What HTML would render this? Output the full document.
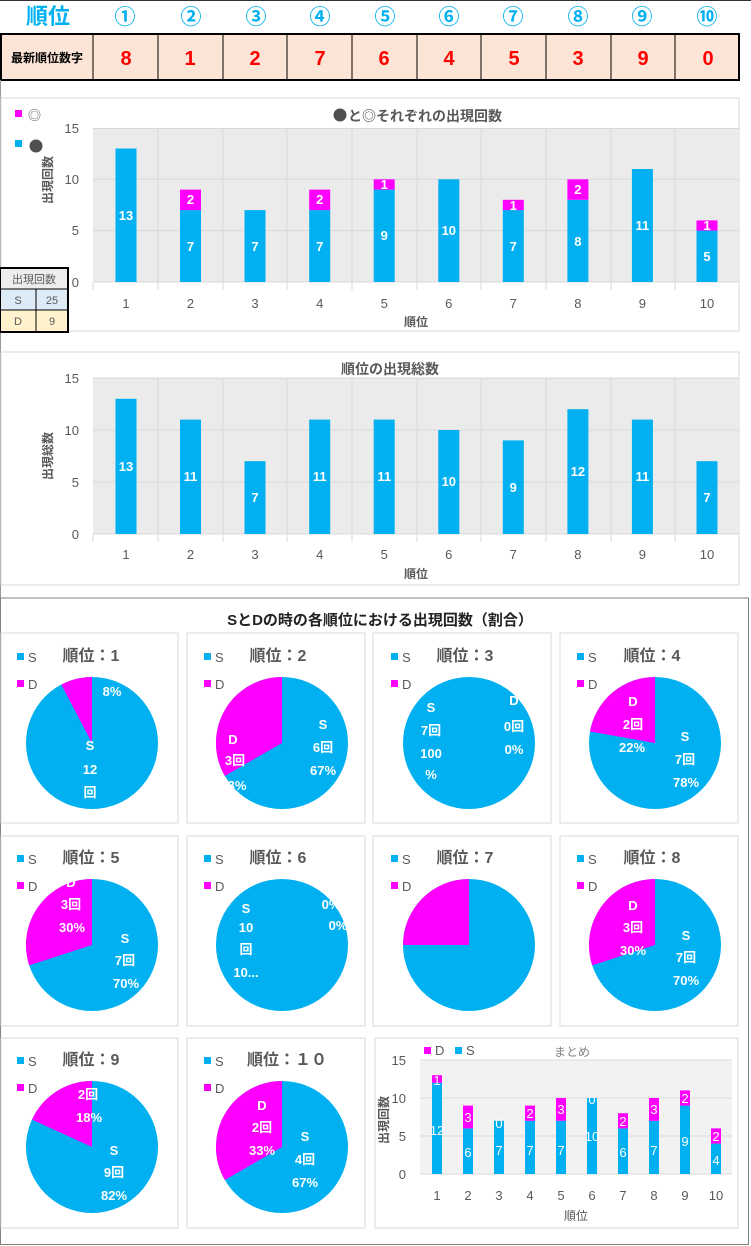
<!DOCTYPE html>
<html><head><meta charset="utf-8"><style>
body{margin:0;background:#fff;}
svg{display:block;font-family:"Liberation Sans","Noto Sans CJK JP",sans-serif;}
.w{fill:#fff;font-weight:bold;font-size:13px;text-anchor:middle;}
.t{fill:#595959;font-size:13px;text-anchor:middle;}
.pt{fill:#595959;font-weight:bold;font-size:16px;text-anchor:middle;}
.lg{fill:#595959;font-size:13px;}
</style></head><body>
<svg width="751" height="1246" viewBox="0 0 751 1246">
<!-- header -->
<line x1="0" y1="0.5" x2="751" y2="0.5" stroke="#333"/>
<g font-size="21" font-weight="bold" fill="#00b0f0" text-anchor="middle">
<text x="48" y="24" font-size="22">順位</text>
<text x="125" y="24">①</text><text x="191" y="24">②</text><text x="256" y="24">③</text><text x="320" y="24">④</text><text x="385" y="24">⑤</text><text x="449" y="24">⑥</text><text x="513" y="24">⑦</text><text x="578" y="24">⑧</text><text x="642" y="24">⑨</text><text x="707" y="24">⑩</text>
</g>
<rect x="1" y="34" width="738" height="46" fill="#fce4d6" stroke="#000" stroke-width="2"/>
<g stroke="#000" stroke-width="1">
<line x1="93" y1="34" x2="93" y2="80"/><line x1="158" y1="34" x2="158" y2="80"/><line x1="223" y1="34" x2="223" y2="80"/><line x1="287" y1="34" x2="287" y2="80"/><line x1="352" y1="34" x2="352" y2="80"/><line x1="417" y1="34" x2="417" y2="80"/><line x1="481" y1="34" x2="481" y2="80"/><line x1="546" y1="34" x2="546" y2="80"/><line x1="611" y1="34" x2="611" y2="80"/><line x1="675" y1="34" x2="675" y2="80"/>
</g>
<text x="47" y="62" font-size="12" font-weight="bold" text-anchor="middle">最新順位数字</text>
<g font-size="20" font-weight="bold" fill="#ff0000" text-anchor="middle">
<text x="126" y="65">8</text><text x="190" y="65">1</text><text x="255" y="65">2</text><text x="320" y="65">7</text><text x="384" y="65">6</text><text x="449" y="65">4</text><text x="514" y="65">5</text><text x="578" y="65">3</text><text x="643" y="65">9</text><text x="708" y="65">0</text>
</g>
<line x1="0.5" y1="80" x2="0.5" y2="600" stroke="#999"/>

<!-- chart 1 -->
<rect x="1" y="98" width="738" height="233" fill="#fff" stroke="#d9d9d9"/>
<rect x="93" y="128" width="646" height="154" fill="#ebebeb"/>
<g stroke="#d9d9d9"><line x1="93" y1="128.5" x2="739" y2="128.5"/><line x1="93" y1="179.3" x2="739" y2="179.3"/><line x1="93" y1="230.6" x2="739" y2="230.6"/><line x1="93" y1="282" x2="739" y2="282"/>
<line x1="158" y1="128" x2="158" y2="290"/><line x1="223" y1="128" x2="223" y2="290"/><line x1="287" y1="128" x2="287" y2="290"/><line x1="352" y1="128" x2="352" y2="290"/><line x1="417" y1="128" x2="417" y2="290"/><line x1="481" y1="128" x2="481" y2="290"/><line x1="546" y1="128" x2="546" y2="290"/><line x1="611" y1="128" x2="611" y2="290"/><line x1="675" y1="128" x2="675" y2="290"/><line x1="93" y1="282" x2="93" y2="290"/></g>
<circle cx="340" cy="115" r="6.5" fill="#505050"/>
<text x="348" y="121" font-size="14" font-weight="bold" fill="#595959">と◎それぞれの出現回数</text>
<rect x="15" y="110" width="7" height="7" fill="#ff00ff"/><text x="28" y="120" class="lg">◎</text>
<rect x="15" y="140" width="7" height="7" fill="#00b0f0"/><circle cx="36" cy="146" r="6.5" fill="#505050"/>
<g class="t" style="text-anchor:end"><text x="79" y="133">15</text><text x="79" y="184">10</text><text x="79" y="235">5</text><text x="79" y="287">0</text></g>
<text transform="translate(52,180) rotate(-90)" font-size="12" font-weight="bold" fill="#595959" text-anchor="middle">出現回数</text>
<g fill="#00b0f0">
<rect x="115.5" y="148.5" width="21" height="133.5"/><rect x="180" y="210.1" width="21" height="71.9"/><rect x="244.5" y="210.1" width="21" height="71.9"/><rect x="309.2" y="210.1" width="21" height="71.9"/><rect x="373.7" y="189.6" width="21" height="92.4"/><rect x="438.3" y="179.3" width="21" height="102.7"/><rect x="502.8" y="210.1" width="21" height="71.9"/><rect x="567.4" y="199.8" width="21" height="82.2"/><rect x="631.9" y="169" width="21" height="113"/><rect x="696.5" y="230.6" width="21" height="51.4"/>
</g>
<g fill="#ff00ff">
<rect x="180" y="189.6" width="21" height="20.5"/><rect x="309.2" y="189.6" width="21" height="20.5"/><rect x="373.7" y="179.3" width="21" height="10.3"/><rect x="502.8" y="199.8" width="21" height="10.3"/><rect x="567.4" y="179.3" width="21" height="20.5"/><rect x="696.5" y="220.4" width="21" height="10.2"/>
</g>
<g class="w">
<text x="126" y="220">13</text><text x="190.5" y="251">7</text><text x="255" y="251">7</text><text x="319.7" y="251">7</text><text x="384.2" y="240">9</text><text x="448.8" y="235">10</text><text x="513.3" y="251">7</text><text x="577.9" y="246">8</text><text x="642.4" y="230">11</text><text x="707" y="261">5</text>
<text x="190.5" y="204">2</text><text x="319.7" y="204">2</text><text x="384.2" y="189">1</text><text x="513.3" y="210">1</text><text x="577.9" y="194">2</text><text x="707" y="230">1</text>
</g>
<g class="t"><text x="126" y="308">1</text><text x="190.5" y="308">2</text><text x="255" y="308">3</text><text x="319.7" y="308">4</text><text x="384.2" y="308">5</text><text x="448.8" y="308">6</text><text x="513.3" y="308">7</text><text x="577.9" y="308">8</text><text x="642.4" y="308">9</text><text x="707" y="308">10</text></g>
<text x="416" y="326" font-size="12" font-weight="bold" fill="#595959" text-anchor="middle">順位</text>
<!-- small table -->
<rect x="0" y="268" width="68" height="64" fill="#fff" stroke="#000" stroke-width="2"/>
<rect x="1" y="269" width="66" height="20" fill="#ededed"/>
<rect x="1" y="289" width="66" height="21" fill="#ddebf7"/>
<rect x="1" y="310" width="66" height="21" fill="#fff2cc"/>
<g stroke="#000"><line x1="0" y1="289" x2="68" y2="289"/><line x1="0" y1="310" x2="68" y2="310"/><line x1="36" y1="289" x2="36" y2="332"/></g>
<g font-size="11" fill="#595959" text-anchor="middle"><text x="34" y="283">出現回数</text><text x="18" y="304">S</text><text x="52" y="304">25</text><text x="18" y="325">D</text><text x="52" y="325">9</text></g>

<!-- chart 2 -->
<rect x="1" y="352" width="738" height="233" fill="#fff" stroke="#d9d9d9"/>
<rect x="93" y="378" width="646" height="156" fill="#ebebeb"/>
<g stroke="#d9d9d9"><line x1="93" y1="378" x2="739" y2="378"/><line x1="93" y1="430" x2="739" y2="430"/><line x1="93" y1="482" x2="739" y2="482"/><line x1="93" y1="534" x2="739" y2="534"/>
<line x1="158" y1="378" x2="158" y2="542"/><line x1="223" y1="378" x2="223" y2="542"/><line x1="287" y1="378" x2="287" y2="542"/><line x1="352" y1="378" x2="352" y2="542"/><line x1="417" y1="378" x2="417" y2="542"/><line x1="481" y1="378" x2="481" y2="542"/><line x1="546" y1="378" x2="546" y2="542"/><line x1="611" y1="378" x2="611" y2="542"/><line x1="675" y1="378" x2="675" y2="542"/><line x1="93" y1="534" x2="93" y2="542"/></g>
<text x="390" y="374" font-size="14" font-weight="bold" fill="#595959" text-anchor="middle">順位の出現総数</text>
<g class="t" style="text-anchor:end"><text x="79" y="383">15</text><text x="79" y="435">10</text><text x="79" y="487">5</text><text x="79" y="539">0</text></g>
<text transform="translate(52,456) rotate(-90)" font-size="12" font-weight="bold" fill="#595959" text-anchor="middle">出現総数</text>
<g fill="#00b0f0">
<rect x="115.5" y="398.8" width="21" height="135.2"/><rect x="180" y="419.6" width="21" height="114.4"/><rect x="244.5" y="461.2" width="21" height="72.8"/><rect x="309.2" y="419.6" width="21" height="114.4"/><rect x="373.7" y="419.6" width="21" height="114.4"/><rect x="438.3" y="430" width="21" height="104"/><rect x="502.8" y="440.4" width="21" height="93.6"/><rect x="567.4" y="409.2" width="21" height="124.8"/><rect x="631.9" y="419.6" width="21" height="114.4"/><rect x="696.5" y="461.2" width="21" height="72.8"/>
</g>
<g class="w">
<text x="126" y="471">13</text><text x="190.5" y="481">11</text><text x="255" y="502">7</text><text x="319.7" y="481">11</text><text x="384.2" y="481">11</text><text x="448.8" y="486">10</text><text x="513.3" y="492">9</text><text x="577.9" y="476">12</text><text x="642.4" y="481">11</text><text x="707" y="502">7</text>
</g>
<g class="t"><text x="126" y="559">1</text><text x="190.5" y="559">2</text><text x="255" y="559">3</text><text x="319.7" y="559">4</text><text x="384.2" y="559">5</text><text x="448.8" y="559">6</text><text x="513.3" y="559">7</text><text x="577.9" y="559">8</text><text x="642.4" y="559">9</text><text x="707" y="559">10</text></g>
<text x="416" y="578" font-size="12" font-weight="bold" fill="#595959" text-anchor="middle">順位</text>

<!-- pie section -->
<rect x="0.5" y="598" width="748" height="646.5" fill="none" stroke="#808080"/>
<text x="380" y="625" font-size="15" font-weight="bold" fill="#222" text-anchor="middle">SとDの時の各順位における出現回数（割合）</text>
<g fill="#fff" stroke="#d9d9d9">
<rect x="1" y="633" width="177" height="190"/><rect x="187" y="633" width="178" height="190"/><rect x="373" y="633" width="178" height="190"/><rect x="560" y="633" width="178" height="190"/>
<rect x="1" y="836" width="177" height="190"/><rect x="187" y="836" width="178" height="190"/><rect x="373" y="836" width="178" height="190"/><rect x="560" y="836" width="178" height="190"/>
<rect x="1" y="1038" width="177" height="190"/><rect x="187" y="1038" width="178" height="190"/><rect x="375" y="1038" width="363" height="190"/>
</g>
<!-- legends -->
<g>
<rect x="17" y="653" width="7" height="7" fill="#00b0f0"/><text x="28" y="662" class="lg">S</text><rect x="17" y="680" width="7" height="7" fill="#ff00ff"/><text x="28" y="689" class="lg">D</text>
<rect x="204" y="653" width="7" height="7" fill="#00b0f0"/><text x="215" y="662" class="lg">S</text><rect x="204" y="680" width="7" height="7" fill="#ff00ff"/><text x="215" y="689" class="lg">D</text>
<rect x="391" y="653" width="7" height="7" fill="#00b0f0"/><text x="402" y="662" class="lg">S</text><rect x="391" y="680" width="7" height="7" fill="#ff00ff"/><text x="402" y="689" class="lg">D</text>
<rect x="577" y="653" width="7" height="7" fill="#00b0f0"/><text x="588" y="662" class="lg">S</text><rect x="577" y="680" width="7" height="7" fill="#ff00ff"/><text x="588" y="689" class="lg">D</text>
<rect x="17" y="855" width="7" height="7" fill="#00b0f0"/><text x="28" y="864" class="lg">S</text><rect x="17" y="882" width="7" height="7" fill="#ff00ff"/><text x="28" y="891" class="lg">D</text>
<rect x="204" y="855" width="7" height="7" fill="#00b0f0"/><text x="215" y="864" class="lg">S</text><rect x="204" y="882" width="7" height="7" fill="#ff00ff"/><text x="215" y="891" class="lg">D</text>
<rect x="391" y="855" width="7" height="7" fill="#00b0f0"/><text x="402" y="864" class="lg">S</text><rect x="391" y="882" width="7" height="7" fill="#ff00ff"/><text x="402" y="891" class="lg">D</text>
<rect x="577" y="855" width="7" height="7" fill="#00b0f0"/><text x="588" y="864" class="lg">S</text><rect x="577" y="882" width="7" height="7" fill="#ff00ff"/><text x="588" y="891" class="lg">D</text>
<rect x="17" y="1057" width="7" height="7" fill="#00b0f0"/><text x="28" y="1066" class="lg">S</text><rect x="17" y="1084" width="7" height="7" fill="#ff00ff"/><text x="28" y="1093" class="lg">D</text>
<rect x="204" y="1057" width="7" height="7" fill="#00b0f0"/><text x="215" y="1066" class="lg">S</text><rect x="204" y="1084" width="7" height="7" fill="#ff00ff"/><text x="215" y="1093" class="lg">D</text>
</g>
<g class="pt">
<text x="91" y="661">順位：1</text><text x="278" y="661">順位：2</text><text x="465" y="661">順位：3</text><text x="652" y="661">順位：4</text>
<text x="91" y="863">順位：5</text><text x="278" y="863">順位：6</text><text x="465" y="863">順位：7</text><text x="652" y="863">順位：8</text>
<text x="91" y="1065">順位：9</text><text x="287" y="1065">順位：１０</text>
</g>
<!-- pies -->
<g fill="#00b0f0">
<circle cx="92" cy="743" r="66"/><circle cx="282" cy="743" r="66"/><circle cx="469" cy="743" r="66"/><circle cx="655" cy="743" r="66"/>
<circle cx="92" cy="945" r="66"/><circle cx="282" cy="945" r="66"/><circle cx="469" cy="945" r="66"/><circle cx="655" cy="945" r="66"/>
<circle cx="92" cy="1147" r="66"/><circle cx="282" cy="1147" r="66"/>
</g>
<g fill="#ff00ff">
<path d="M92 743 L61.3 684.6 A66 66 0 0 1 92 677 Z"/>
<path d="M282 743 L224.8 776 A66 66 0 0 1 282 677 Z"/>
<path d="M655 743 L590 731.5 A66 66 0 0 1 655 677 Z"/>
<path d="M92 945 L29.2 965.4 A66 66 0 0 1 92 879 Z"/>
<path d="M469 945 L403 945 A66 66 0 0 1 469 879 Z"/>
<path d="M655 945 L592.2 965.4 A66 66 0 0 1 655 879 Z"/>
<path d="M92 1147 L32 1119.6 A66 66 0 0 1 92 1081 Z"/>
<path d="M282 1147 L224.8 1180 A66 66 0 0 1 282 1081 Z"/>
</g>
<g class="w">
<text x="112" y="696">8%</text><text x="90" y="750">S</text><text x="90" y="774">12</text><text x="90" y="797">回</text>
<text x="323" y="729">S</text><text x="323" y="752">6回</text><text x="323" y="775">67%</text><text x="233" y="744">D</text><text x="235" y="765">3回</text><text x="237" y="790">3%</text>
<text x="431" y="712">S</text><text x="431" y="735">7回</text><text x="431" y="758">100</text><text x="431" y="779">%</text><text x="514" y="705">D</text><text x="514" y="731">0回</text><text x="514" y="754">0%</text>
<text x="633" y="706">D</text><text x="633" y="729">2回</text><text x="632" y="752">22%</text><text x="685" y="741">S</text><text x="685" y="764">7回</text><text x="686" y="787">78%</text>
<text x="71" y="887">D</text><text x="71" y="909">3回</text><text x="72" y="932">30%</text><text x="125" y="943">S</text><text x="125" y="965">7回</text><text x="126" y="988">70%</text>
<text x="246" y="913">S</text><text x="246" y="932">10</text><text x="246" y="954">回</text><text x="246" y="977">10...</text><text x="331" y="909">0%</text><text x="338" y="930">0%</text>
<text x="633" y="910">D</text><text x="633" y="932">3回</text><text x="633" y="955">30%</text><text x="686" y="940">S</text><text x="686" y="962">7回</text><text x="686" y="985">70%</text>
<text x="88" y="1099">2回</text><text x="89" y="1122">18%</text><text x="114" y="1155">S</text><text x="114" y="1177">9回</text><text x="114" y="1200">82%</text>
<text x="262" y="1110">D</text><text x="262" y="1132">2回</text><text x="262" y="1155">33%</text><text x="305" y="1141">S</text><text x="305" y="1164">4回</text><text x="305" y="1187">67%</text>
</g>
<!-- summary chart -->
<rect x="420" y="1060" width="312" height="114" fill="#f2f2f2"/>
<g stroke="#d9d9d9"><line x1="420" y1="1060" x2="732" y2="1060"/><line x1="420" y1="1098" x2="732" y2="1098"/><line x1="420" y1="1136" x2="732" y2="1136"/><line x1="420" y1="1174" x2="732" y2="1174"/></g>
<rect x="424" y="1047" width="7" height="7" fill="#ff00ff"/><text x="435" y="1055" class="lg" font-size="12">D</text>
<rect x="455" y="1047" width="7" height="7" fill="#00b0f0"/><text x="466" y="1055" class="lg" font-size="12">S</text>
<text x="572" y="1056" font-size="12" fill="#808080" text-anchor="middle">まとめ</text>
<g class="t" style="text-anchor:end"><text x="406" y="1065">15</text><text x="406" y="1103">10</text><text x="406" y="1141">5</text><text x="406" y="1179">0</text></g>
<text transform="translate(388,1120) rotate(-90)" font-size="12" font-weight="bold" fill="#595959" text-anchor="middle">出現回数</text>
<g fill="#00b0f0">
<rect x="432" y="1082.8" width="10" height="91.2"/><rect x="463" y="1128.4" width="10" height="45.6"/><rect x="494" y="1120.8" width="10" height="53.2"/><rect x="525" y="1120.8" width="10" height="53.2"/><rect x="556" y="1120.8" width="10" height="53.2"/><rect x="587" y="1098" width="10" height="76"/><rect x="618" y="1128.4" width="10" height="45.6"/><rect x="649" y="1120.8" width="10" height="53.2"/><rect x="680" y="1105.6" width="10" height="68.4"/><rect x="711" y="1143.6" width="10" height="30.4"/>
</g>
<g fill="#ff00ff">
<rect x="432" y="1075.2" width="10" height="7.6"/><rect x="463" y="1105.6" width="10" height="22.8"/><rect x="525" y="1105.6" width="10" height="15.2"/><rect x="556" y="1098" width="10" height="22.8"/><rect x="618" y="1113.2" width="10" height="15.2"/><rect x="649" y="1098" width="10" height="22.8"/><rect x="680" y="1090.4" width="10" height="15.2"/><rect x="711" y="1128.4" width="10" height="15.2"/>
</g>
<g fill="#fff" font-size="13" text-anchor="middle">
<text x="437" y="1135">12</text><text x="468" y="1157">6</text><text x="499" y="1155">7</text><text x="530" y="1155">7</text><text x="561" y="1155">7</text><text x="592" y="1141">10</text><text x="623" y="1157">6</text><text x="654" y="1155">7</text><text x="685" y="1146">9</text><text x="716" y="1165">4</text>
<text x="437" y="1085">1</text><text x="468" y="1122">3</text><text x="499" y="1128">0</text><text x="530" y="1118">2</text><text x="561" y="1114">3</text><text x="592" y="1104">0</text><text x="623" y="1126">2</text><text x="654" y="1114">3</text><text x="685" y="1103">2</text><text x="716" y="1141">2</text>
</g>
<g class="t"><text x="437" y="1200">1</text><text x="468" y="1200">2</text><text x="499" y="1200">3</text><text x="530" y="1200">4</text><text x="561" y="1200">5</text><text x="592" y="1200">6</text><text x="623" y="1200">7</text><text x="654" y="1200">8</text><text x="685" y="1200">9</text><text x="716" y="1200">10</text></g>
<text x="576" y="1220" font-size="12" fill="#595959" text-anchor="middle">順位</text>
</svg>
</body></html>
